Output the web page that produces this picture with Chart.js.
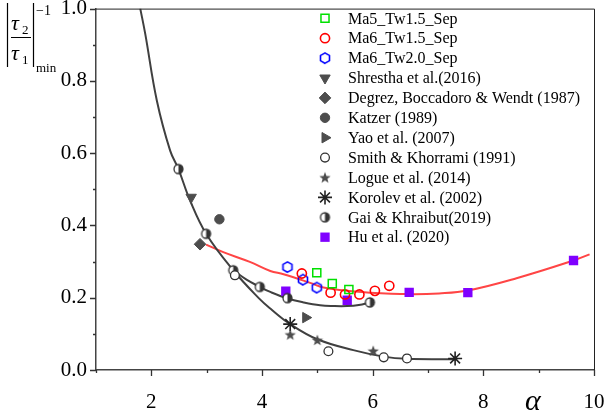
<!DOCTYPE html>
<html>
<head>
<meta charset="utf-8">
<script src="https://cdn.jsdelivr.net/npm/chart.js@4/dist/chart.umd.min.js"></script>
<style>
  html, body { margin: 0; padding: 0; background: #fff; }
  canvas { display: block; }
</style>
</head>
<body>
<canvas id="chart" width="607" height="413"></canvas>
<script>
// ---- data ----
const ma5X = [4.99, 5.27, 5.57];
const ma5Y = [0.269, 0.239, 0.223];

const ma6X = [4.72, 5.24, 5.50, 5.76, 6.04, 6.30];
const ma6Y = [0.267, 0.214, 0.209, 0.209, 0.219, 0.233];

const ma6Tw2X = [4.46, 4.74, 4.99];
const ma6Tw2Y = [0.285, 0.250, 0.228];

const shresthaX = [2.72];
const shresthaY = [0.478];

const degrezX = [2.88];
const degrezY = [0.348];

const katzerX = [3.23];
const katzerY = [0.417];

const yaoX = [4.79];
const yaoY = [0.145];

const smithX = [3.51, 5.20, 6.20, 6.62];
const smithY = [0.262, 0.052, 0.035, 0.032];

const logueX = [4.51, 5.00, 6.01];
const logueY = [0.098, 0.083, 0.053];

const korolevX = [4.51, 7.49];
const korolevY = [0.127, 0.032];

const gaiX = [2.49, 2.99, 3.48, 3.96, 4.46, 5.95];
const gaiY = [0.556, 0.377, 0.276, 0.230, 0.199, 0.187];

const huX = [4.43, 5.54, 6.66, 7.72, 9.63];
const huY = [0.218, 0.193, 0.215, 0.214, 0.303];

// fitted curves (traced)
const steepX = [1.80, 1.89, 2.10, 2.34, 2.49, 2.70, 2.99, 3.48, 3.96, 4.15, 4.50, 5.00, 5.65, 6.20, 6.62, 7.49];
const steepY = [1.00, 0.930, 0.745, 0.607, 0.556, 0.469, 0.377, 0.276, 0.196, 0.170, 0.128, 0.085, 0.055, 0.037, 0.031, 0.030];

const gaiFitX = [3.48, 3.72, 3.96, 4.15, 4.46, 4.75, 5.05, 5.30, 5.54, 5.75, 5.95];
const gaiFitY = [0.276, 0.250, 0.230, 0.216, 0.198, 0.187, 0.179, 0.177, 0.177, 0.180, 0.187];

const redFitX = [2.99, 3.30, 3.78, 4.15, 4.39, 4.87, 5.11, 5.50, 5.95, 6.66, 7.20, 7.72, 8.60, 9.63, 9.92];
const redFitY = [0.347, 0.326, 0.299, 0.274, 0.265, 0.241, 0.228, 0.220, 0.214, 0.210, 0.212, 0.220, 0.254, 0.303, 0.320];

const xTicks = [2, 4, 6, 8, 10];
const yTicks = [0.0, 0.2, 0.4, 0.6, 0.8, 1.0];

// ---- helpers ----
function pts(xs, ys) {
    return xs.map((x, i) => ({ x: x, y: ys[i] }));
}

function hexMarker(r, color, lw) {
    const size = Math.ceil(2 * r + 2 * lw + 2);
    const c = document.createElement('canvas');
    c.width = c.height = size;
    const g = c.getContext('2d');
    const m = size / 2;
    g.beginPath();
    for (let i = 0; i < 6; i++) {
        const a = Math.PI / 2 + i * Math.PI / 3;
        g.lineTo(m + r * Math.cos(a), m + r * Math.sin(a));
    }
    g.closePath();
    g.strokeStyle = color;
    g.lineWidth = lw;
    g.stroke();
    return c;
}

function starMarker(ro, ri, color) {
    const size = Math.ceil(2 * ro + 2);
    const c = document.createElement('canvas');
    c.width = c.height = size;
    const g = c.getContext('2d');
    const m = size / 2;
    g.beginPath();
    for (let i = 0; i < 10; i++) {
        const r = i % 2 === 0 ? ro : ri;
        const a = -Math.PI / 2 + i * Math.PI / 5;
        g.lineTo(m + r * Math.cos(a), m + 0.5 + r * Math.sin(a));
    }
    g.closePath();
    g.fillStyle = color;
    g.fill();
    return c;
}

function halfMarker(r, color) {
    const size = Math.ceil(2 * r + 4);
    const c = document.createElement('canvas');
    c.width = c.height = size;
    const g = c.getContext('2d');
    const m = size / 2;
    g.beginPath();
    g.arc(m, m, r, 0, Math.PI * 2);
    g.fillStyle = '#fff';
    g.fill();
    g.beginPath();
    g.arc(m, m, r, -Math.PI / 2, Math.PI / 2);
    g.closePath();
    g.fillStyle = color;
    g.fill();
    g.beginPath();
    g.arc(m, m, r, 0, Math.PI * 2);
    g.strokeStyle = color;
    g.lineWidth = 1.3;
    g.stroke();
    return c;
}

const gray = '#4d4d4d';
const serif = 'Liberation Serif';

function markerSet(label, xs, ys, style) {
    return Object.assign({
        label: label,
        data: pts(xs, ys),
        showLine: false,
        order: 1
    }, style);
}

function curve(xs, ys, color) {
    return {
        label: '',
        isCurve: true,
        data: pts(xs, ys),
        showLine: true,
        borderColor: color,
        borderWidth: 2,
        pointRadius: 0,
        tension: 0.4,
        order: 10
    };
}

const datasets = [
    markerSet('Ma5_Tw1.5_Sep', ma5X, ma5Y, { pointStyle: 'rect', pointRadius: 5.7, pointBorderWidth: 1.5, borderColor: '#00e000', backgroundColor: 'rgba(255,255,255,0)' }),
    markerSet('Ma6_Tw1.5_Sep', ma6X, ma6Y, { pointStyle: 'circle', pointRadius: 4.6, pointBorderWidth: 1.6, borderColor: '#ff0000', backgroundColor: 'rgba(255,255,255,0)' }),
    markerSet('Ma6_Tw2.0_Sep', ma6Tw2X, ma6Tw2Y, { pointStyle: hexMarker(5.2, '#0000ff', 1.6), pointRadius: 5, borderColor: '#0000ff', backgroundColor: '#0000ff' }),
    markerSet('Shrestha et al.(2016)', shresthaX, shresthaY, { pointStyle: 'triangle', rotation: 180, pointRadius: 6, pointBorderWidth: 1, borderColor: gray, backgroundColor: gray }),
    markerSet('Degrez, Boccadoro & Wendt (1987)', degrezX, degrezY, { pointStyle: 'rectRot', pointRadius: 5.8, pointBorderWidth: 1, borderColor: gray, backgroundColor: gray }),
    markerSet('Katzer (1989)', katzerX, katzerY, { pointStyle: 'circle', pointRadius: 4.7, pointBorderWidth: 1, borderColor: gray, backgroundColor: gray }),
    markerSet('Yao et al. (2007)', yaoX, yaoY, { pointStyle: 'triangle', rotation: 90, pointRadius: 6, pointBorderWidth: 1, borderColor: gray, backgroundColor: gray }),
    markerSet('Smith & Khorrami (1991)', smithX, smithY, { pointStyle: 'circle', pointRadius: 4.4, pointBorderWidth: 1.3, borderColor: '#333', backgroundColor: '#fff' }),
    markerSet('Logue et al. (2014)', logueX, logueY, { pointStyle: starMarker(6, 2.5, gray), pointRadius: 5, borderColor: gray, backgroundColor: gray }),
    markerSet('Korolev et al. (2002)', korolevX, korolevY, { pointStyle: 'star', pointRadius: 7, pointBorderWidth: 1.6, borderColor: '#222', backgroundColor: '#222' }),
    markerSet('Gai & Khraibut(2019)', gaiX, gaiY, { pointStyle: halfMarker(4.5, '#333'), pointRadius: 5, borderColor: '#333', backgroundColor: '#333' }),
    markerSet('Hu et al. (2020)', huX, huY, { pointStyle: 'rect', pointRadius: 6.6, pointBorderWidth: 0, borderColor: '#7f00ff', backgroundColor: '#7f00ff' }),
    curve(steepX, steepY, '#404040'),
    curve(gaiFitX, gaiFitY, '#404040'),
    curve(redFitX, redFitY, '#ff4545')
];

// ticks, frame, legend and axis titles drawn on top of the library's scales
const decorPlugin = {
    id: 'decor',
    afterDraw(chart) {
        const ctx = chart.ctx;
        const area = chart.chartArea;
        const xs = chart.scales.x;
        const ys = chart.scales.y;
        ctx.save();

        // frame: top and right
        ctx.strokeStyle = '#222';
        ctx.lineWidth = 1;
        ctx.beginPath();
        ctx.moveTo(area.left, area.top + 0.5);
        ctx.lineTo(area.right + 0.5, area.top + 0.5);
        ctx.lineTo(area.right + 0.5, area.bottom);
        ctx.stroke();

        // tick marks
        ctx.strokeStyle = '#333';
        ctx.lineWidth = 1.3;
        ctx.beginPath();
        for (let v = 1; v <= 10; v++) {
            const px = Math.round(xs.getPixelForValue(v)) + 0.5;
            const len = v % 2 === 0 ? 6 : 3;
            ctx.moveTo(px, area.bottom);
            ctx.lineTo(px, area.bottom + len);
        }
        for (let k = 0; k <= 10; k++) {
            const py = Math.round(ys.getPixelForValue(k / 10)) + 0.5;
            const len = k % 2 === 0 ? 6 : 3;
            ctx.moveTo(area.left, py);
            ctx.lineTo(area.left - len, py);
        }
        ctx.stroke();

        // legend
        let ly = 18.3;
        ctx.font = '16px "' + serif + '"';
        ctx.textBaseline = 'middle';
        ctx.textAlign = 'left';
        chart.data.datasets.forEach(ds => {
            if (ds.isCurve) return;
            ctx.fillStyle = ds.backgroundColor;
            ctx.strokeStyle = ds.borderColor;
            ctx.lineWidth = ds.pointBorderWidth || 0;
            Chart.helpers.drawPoint(ctx, {
                pointStyle: ds.pointStyle,
                rotation: ds.rotation || 0,
                radius: ds.pointRadius,
                borderWidth: ds.pointBorderWidth || 0
            }, 325, ly);
            ctx.fillStyle = '#000';
            ctx.fillText(ds.label, 348, ly + 1);
            ly += 19.9;
        });

        // x axis title
        ctx.font = 'italic 30px "' + serif + '"';
        ctx.fillStyle = '#000';
        ctx.textAlign = 'left';
        ctx.textBaseline = 'alphabetic';
        ctx.fillText('\u03b1', 525, 410);

        // y axis title |tau2/tau1|^-1_min
        ctx.strokeStyle = '#000';
        ctx.lineWidth = 1.2;
        ctx.beginPath();
        ctx.moveTo(7.5, 3); ctx.lineTo(7.5, 67);
        ctx.moveTo(33.5, 3); ctx.lineTo(33.5, 67);
        ctx.moveTo(11, 37.5); ctx.lineTo(31, 37.5);
        ctx.stroke();
        ctx.font = 'italic 22px "' + serif + '"';
        ctx.fillText('\u03c4', 11, 30);
        ctx.fillText('\u03c4', 11, 60);
        ctx.font = '13px "' + serif + '"';
        ctx.fillText('2', 22, 34);
        ctx.fillText('1', 22, 64);
        ctx.font = '14px "' + serif + '"';
        ctx.fillText('\u22121', 36, 15);
        ctx.font = '13px "' + serif + '"';
        ctx.fillText('min', 36, 72);

        ctx.restore();
    }
};

new Chart(document.getElementById('chart').getContext('2d'), {
    type: 'scatter',
    data: { datasets: datasets },
    options: {
        responsive: false,
        animation: false,
        layout: { padding: { top: 7, right: 13, left: 0, bottom: 0 } },
        plugins: {
            legend: { display: false },
            tooltip: { enabled: false }
        },
        scales: {
            x: {
                type: 'linear',
                min: 1,
                max: 10,
                afterBuildTicks: s => { s.ticks = xTicks.map(v => ({ value: v })); },
                ticks: {
                    autoSkip: false,
                    maxRotation: 0,
                    padding: 20,
                    color: '#000',
                    font: { family: serif, size: 21 },
                    callback: v => String(v)
                },
                grid: { drawOnChartArea: false, drawTicks: false },
                border: { display: true, color: '#444', width: 1.5 },
                afterFit: s => { s.height = 43; s.paddingLeft = 0; s.paddingRight = 0; }
            },
            y: {
                type: 'linear',
                min: 0,
                max: 1,
                afterBuildTicks: s => { s.ticks = yTicks.map(v => ({ value: v })); },
                ticks: {
                    autoSkip: false,
                    padding: 9,
                    color: '#000',
                    font: { family: serif, size: 21 },
                    callback: v => v.toFixed(1)
                },
                grid: { drawOnChartArea: false, drawTicks: false },
                border: { display: true, color: '#444', width: 1.5 },
                afterFit: s => { s.width = 96; s.paddingTop = 0; s.paddingBottom = 0; }
            }
        }
    },
    plugins: [decorPlugin]
});
</script>
</body>
</html>
